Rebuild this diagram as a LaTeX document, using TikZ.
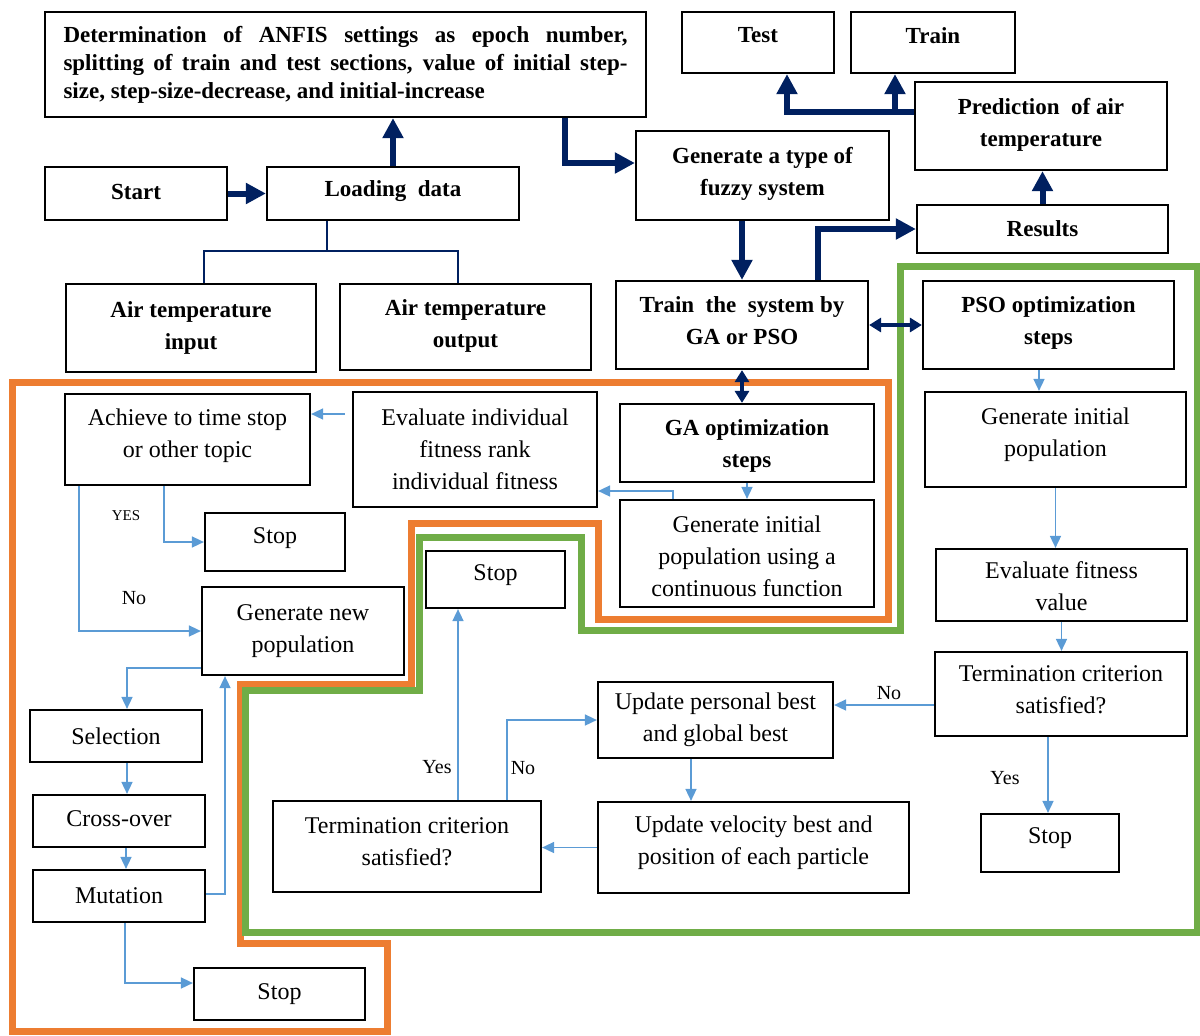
\documentclass[tikz,border=0pt]{standalone}
\usepackage{fontspec}
\setmainfont{Liberation Serif}
\usetikzlibrary{arrows.meta}
\definecolor{navyc}{HTML}{002060}
\definecolor{bluec}{HTML}{5B9BD5}
\definecolor{orangec}{HTML}{ED7D31}
\definecolor{greenc}{HTML}{70AD47}
\newcommand{\rbx}[2]{\raisebox{#1}[\height][\depth]{\begin{tabular}{@{}c@{}}#2\end{tabular}}}
\newcommand{\rsb}[2]{\raisebox{#1}[\height][\depth]{#2}}
\begin{document}
\begin{tikzpicture}[x=0.5pt,y=-0.5pt,
  box/.style={draw=black, line width=1.1pt, inner sep=0pt, align=center,
    font=\fontsize{12}{16}\selectfont},
  bbox/.style={box, font=\bfseries\fontsize{11.5}{16}\selectfont},
  thickarr/.style={draw=navyc, line width=3pt, -{Triangle[length=10pt,width=10pt]}},
  thinnavy/.style={draw=navyc, line width=1.1pt},
  dblarr/.style={draw=navyc, line width=1.6pt, {Triangle[length=6pt,width=7pt]}-{Triangle[length=6pt,width=7pt]}},
  bl/.style={draw=bluec, line width=0.8pt, -{Triangle[length=6pt,width=5.5pt]}},
  orangeb/.style={draw=orangec, line width=3.5pt, line join=miter},
  greenb/.style={draw=greenc, line width=3.5pt, line join=miter},
  lab/.style={inner sep=0pt, font=\fontsize{10}{12}\selectfont},
  labsmall/.style={inner sep=0pt, font=\fontsize{7.5}{9}\selectfont}]
\useasboundingbox (0,0) rectangle (1200,1035);

% group boundaries
\draw[orangeb] (12,382) -- (888,382) -- (888,619) -- (598,619) -- (598,523) -- (411,523) -- (411,684) -- (240,684) -- (240,943) -- (387,943) -- (387,1031) -- (12,1031) -- cycle;
\draw[greenb] (900,266) -- (1197,266) -- (1197,932) -- (245,932) -- (245,690) -- (419,690) -- (419,537) -- (581,537) -- (581,630) -- (900,630) -- cycle;

% upper (bold) boxes
\node[bbox, minimum width=300.5pt, minimum height=52.5pt, text width=282pt, align=justify,
  inner xsep=9pt, font=\bfseries\fontsize{11.5}{14}\selectfont] (det) at (345.5,64.5)
  {Determination of ANFIS settings as epoch number,\linebreak splitting of train and test sections, value of initial step-\linebreak size, step-size-decrease, and initial-increase};
\node[bbox, minimum width=91pt, minimum height=26.5pt] (start) at (136,193.5) {\rsb{1pt}{Start}};
\node[bbox, minimum width=126pt, minimum height=26.5pt] (load) at (393,193.5) {\rsb{1pt}{Loading\ \ data}};
\node[bbox, minimum width=76pt, minimum height=30.5pt] (test) at (758,42.5) {\rsb{3.5pt}{Test}};
\node[bbox, minimum width=82pt, minimum height=30.5pt] (train) at (933,42.5) {\rsb{3.5pt}{Train}};
\node[bbox, minimum width=126pt, minimum height=44pt] (pred) at (1041,126) {\rbx{1pt}{Prediction\ \ of air\\temperature}};
\node[bbox, minimum width=126.5pt, minimum height=44.5pt] (gen) at (762.5,175.5) {\rbx{1pt}{Generate a type of\\fuzzy system}};
\node[bbox, minimum width=125.5pt, minimum height=24pt] (res) at (1042.5,229) {Results};
\node[bbox, minimum width=125pt, minimum height=44pt] (ain) at (191,328) {Air temperature\\input};
\node[bbox, minimum width=125.5pt, minimum height=43pt] (aout) at (465.5,327) {\rbx{1pt}{Air temperature\\output}};
\node[bbox, minimum width=126pt, minimum height=44pt] (tsys) at (742,325) {\rbx{1.5pt}{Train\ \ the\ \ system by\\GA or PSO}};
\node[bbox, minimum width=125.5pt, minimum height=44pt] (pso) at (1048.5,325) {\rbx{1.5pt}{PSO optimization\\steps}};
\node[bbox, minimum width=127pt, minimum height=39pt] (gas) at (747,443) {\rbx{-1pt}{GA optimization\\steps}};

% lower (regular) boxes
\node[box, minimum width=122.5pt, minimum height=45.5pt] (ach) at (187.5,439.5) {\rbx{2pt}{Achieve to time stop\\or other topic}};
\node[box, minimum width=122pt, minimum height=57.5pt] (evi) at (475,449.5) {Evaluate individual\\fitness rank\\individual fitness};
\node[box, minimum width=127pt, minimum height=53.5pt] (gip) at (747,553.5) {\rbx{-2.5pt}{Generate initial\\population using a\\continuous function}};
\node[box, minimum width=70pt, minimum height=29pt] (stopa) at (275,542) {\rsb{2pt}{Stop}};
\node[box, minimum width=69.5pt, minimum height=28.5pt] (stopb) at (495.5,579.5) {\rsb{2pt}{Stop}};
\node[box, minimum width=101pt, minimum height=44pt] (gnp) at (303,631) {Generate new\\population};
\node[box, minimum width=130.5pt, minimum height=47.5pt] (psogi) at (1055.5,439.5) {\rbx{2.5pt}{Generate initial\\population}};
\node[box, minimum width=125.5pt, minimum height=36pt] (efv) at (1061.5,585) {\rbx{-1.5pt}{Evaluate fitness\\value}};
\node[box, minimum width=126pt, minimum height=42pt] (tcr) at (1061,694) {\rbx{1.5pt}{Termination criterion\\satisfied?}};
\node[box, minimum width=117.5pt, minimum height=38pt] (upb) at (715.5,720) {Update personal best\\and global best};
\node[box, minimum width=86pt, minimum height=26pt] (sel) at (116,736) {Selection};
\node[box, minimum width=86pt, minimum height=26pt] (cross) at (119,821) {\rsb{1pt}{Cross-over}};
\node[box, minimum width=86pt, minimum height=26pt] (mut) at (119,896) {Mutation};
\node[box, minimum width=134pt, minimum height=45.5pt] (tcl) at (407,846.5) {\rbx{1.5pt}{Termination criterion\\satisfied?}};
\node[box, minimum width=155.5pt, minimum height=45.5pt] (upv) at (753.5,847.5) {\rbx{2.5pt}{Update velocity best and\\position of each particle}};
\node[box, minimum width=69pt, minimum height=29pt] (stopd) at (1050,843) {\rsb{2.5pt}{Stop}};
\node[box, minimum width=85.5pt, minimum height=26pt] (stopc) at (279.5,994) {Stop};

% labels
\node[labsmall] (l1) at (126,516) {YES};
\node[lab] (l2) at (134,598) {No};
\node[lab] (l3) at (437,767) {Yes};
\node[lab] (l4) at (523,768) {No};
\node[lab] (l5) at (889,693) {No};
\node[lab] (l6) at (1005,778) {Yes};

% thick navy connectors
\draw[thickarr] (start) -- (load);
\draw[thickarr] (load.north) -- (load.north |- det.south);
\coordinate (dg) at ([xshift=-41pt]det.south east);
\draw[thickarr] (dg) |- ([yshift=6.25pt]gen.west);
\draw[thickarr] (tsys.north |- gen.south) -- (tsys.north);
\draw[thickarr] ([xshift=38pt]tsys.north) |- (res.west);
\draw[thickarr] (res.north) -- (res.north |- pred.south);
\coordinate (pl) at ([yshift=7pt]pred.west);
\draw[thickarr] (pl) -| ([xshift=14.5pt]test.south);
\coordinate (tb) at ([xshift=-19pt]train.south);
\draw[thickarr] (tb |- pl) -- (tb);

% thin navy lines to air temperature boxes
\coordinate (lj) at ([xshift=-33pt,yshift=-15pt]load.south);
\draw[thinnavy] ([xshift=-33pt]load.south) -- (lj);
\draw[thinnavy] ([xshift=6.5pt]ain.north) |- (lj) -| ([xshift=-3.75pt]aout.north);

% double arrows
\draw[dblarr] (tsys.east) -- (pso.west);
\draw[dblarr] (tsys.south) -- (tsys.south |- gas.north);

% thin blue arrows (GA)
\coordinate (e1) at ([yshift=17.75pt]evi.west);
\draw[bl] ([xshift=-3.5pt]e1) -- (e1 -| ach.east);
\coordinate (e2) at ([yshift=-20.75pt]evi.east);
\draw[bl] ([xshift=-37pt]gip.north) |- (e2);
\draw[bl] (gas.south) -- (gip.north);
\draw[bl] ([xshift=-11.75pt]ach.south) |- (stopa.west);
\draw[bl] ([xshift=-54.25pt]ach.south) |- (gnp.west);
\draw[bl] ([yshift=-18.5pt]gnp.west) -| ([xshift=5.5pt]sel.north);
\coordinate (sx) at ([xshift=5.5pt]sel.south);
\draw[bl] (sx) -- (sx |- cross.north);
\coordinate (cx) at ([xshift=3.5pt]cross.south);
\draw[bl] (cx) -- (cx |- mut.north);
\draw[bl] ([yshift=1pt]mut.east) -| ([xshift=-39pt]gnp.south);
\draw[bl] ([xshift=3pt]mut.south) |- ([yshift=5.5pt]stopc.west);

% thin blue arrows (PSO)
\coordinate (ty) at ([xshift=25.5pt]tcl.north);
\draw[bl] (ty) -- (ty |- stopb.south);
\draw[bl] ([xshift=50pt]tcl.north) |- (upb.west);
\coordinate (u1) at ([xshift=-12.25pt]upb.south);
\draw[bl] (u1) -- (u1 |- upv.north);
\draw[bl] (upv.west) -- (upv.west -| tcl.east);
\coordinate (t1) at ([yshift=-5.5pt]tcr.west);
\draw[bl] (t1) -- (t1 -| upb.east);
\coordinate (t2) at ([xshift=-6.5pt]tcr.south);
\draw[bl] (t2) -- (t2 |- stopd.north);
\coordinate (p1) at ([xshift=-4.75pt]pso.south);
\draw[bl] (p1) -- (p1 |- psogi.north);
\draw[bl] (psogi.south) -- (psogi.south |- efv.north);
\draw[bl] (efv.south) -- (efv.south |- tcr.north);
\end{tikzpicture}
\end{document}
